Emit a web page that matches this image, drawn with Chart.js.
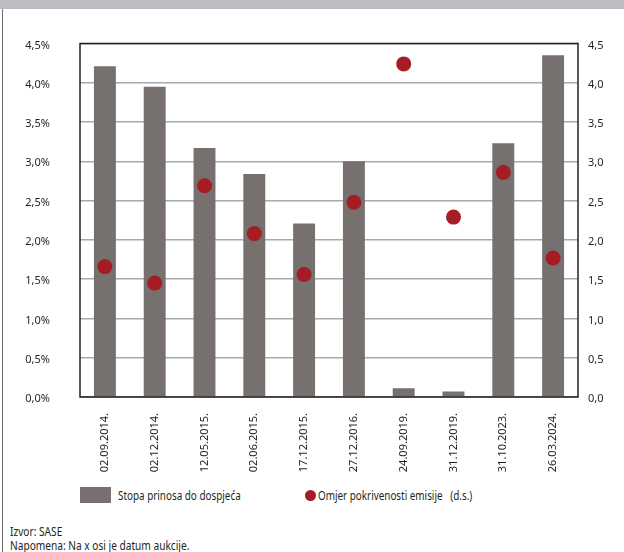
<!DOCTYPE html>
<html>
<head>
<meta charset="utf-8">
<script src="https://cdn.jsdelivr.net/npm/chart.js@4.4.1/dist/chart.umd.min.js"></script>
<style>
  body { margin: 0; width: 624px; height: 552px; background: #fff; position: relative; overflow: hidden;
         font-family: "Noto Sans", sans-serif; color: #231f20; }
  #traka { position: absolute; left: 0; top: 0; width: 624px; height: 9px; background: #bcbdc1; }
  #rub { position: absolute; left: 2px; top: 9px; width: 1px; height: 543px; background: #6d6e71; }
  #okvir { position: absolute; left: 0; top: 0; width: 624px; height: 480px; }
  .leg { position: absolute; font-size: 13px; line-height: 16px; white-space: nowrap;
         transform: scaleX(0.76); transform-origin: left center; }
  #legBar { left: 80px; top: 487px; width: 31px; height: 16px; background: #76706e; transform: none; }
  #legBarTxt { left: 118px; top: 487px; }
  #legDot { left: 305px; top: 490px; width: 11px; height: 11px; border-radius: 50%; background: #a51c24; transform: none; }
  #legDotTxt { left: 318px; top: 487px; }
  .nap { position: absolute; left: 10px; font-size: 13px; line-height: 14px; white-space: nowrap;
         transform: scaleX(0.78); transform-origin: left center; }
</style>
</head>
<body>
<div id="traka"></div>
<div id="rub"></div>
<div id="okvir"><canvas id="grafikon"></canvas></div>

<div class="leg" id="legBar"></div>
<div class="leg" id="legBarTxt">Stopa prinosa do dospjeća</div>
<div class="leg" id="legDot"></div>
<div class="leg" id="legDotTxt">Omjer pokrivenosti emisije&nbsp;&nbsp;&nbsp;(d.s.)</div>

<div class="nap" style="top:524px">Izvor: SASE</div>
<div class="nap" style="top:538px">Napomena: Na x osi je datum aukcije.</div>

<script>
// datumi aukcija
const datumi = ["02.09.2014.", "02.12.2014.", "12.05.2015.", "02.06.2015.", "17.12.2015.",
                "27.12.2016.", "24.09.2019.", "31.12.2019.", "31.10.2023.", "26.03.2024."];
// stopa prinosa do dospijeca (%)
const prinos = [4.21, 3.95, 3.17, 2.84, 2.21, 3.00, 0.11, 0.07, 3.23, 4.35];
// omjer pokrivenosti emisije (desna os)
const pokrivenost = [1.66, 1.45, 2.69, 2.08, 1.56, 2.48, 4.24, 2.29, 2.86, 1.77];

const oznakeLijevo = v => v.toFixed(1).replace(".", ",") + "%";
const oznakeDesno = v => v.toFixed(1).replace(".", ",");

// okvir oko podrucja grafa
const okvirPlugin = {
    id: "okvirPlugin",
    afterDatasetsDraw(chart) {
        const { ctx, chartArea: a } = chart;
        ctx.save();
        ctx.strokeStyle = "#231f20";
        ctx.lineWidth = 1.5;
        ctx.strokeRect(a.left, a.top, a.right - a.left, a.bottom - a.top);
        ctx.restore();
    }
};

const font = { family: '"Noto Sans", sans-serif', size: 11 };

new Chart(document.getElementById("grafikon").getContext("2d"), {
    type: "bar",
    data: {
        labels: datumi,
        datasets: [{
            type: "line",
            label: "Omjer pokrivenosti emisije (d.s.)",
            data: pokrivenost,
            yAxisID: "y2",
            showLine: false,
            pointRadius: 7.5,
            pointHoverRadius: 7.5,
            pointBackgroundColor: "#a51c24",
            pointBorderWidth: 0,
            order: 0
        }, {
            label: "Stopa prinosa do dospjeća",
            data: prinos,
            yAxisID: "y",
            backgroundColor: "#76706e",
            barPercentage: 0.5,
            categoryPercentage: 0.88,
            order: 1
        }]
    },
    options: {
        responsive: true,
        maintainAspectRatio: false,
        animation: false,
        layout: { padding: { top: 43.5, left: 0, right: 0, bottom: 0 } },
        plugins: { legend: { display: false }, tooltip: { enabled: false } },
        scales: {
            x: {
                grid: { display: false, drawTicks: false },
                border: { display: false },
                ticks: { font, color: "#231f20", minRotation: 90, maxRotation: 90, padding: 16 },
                afterFit(s) { s.height = 83; }
            },
            y: {
                position: "left",
                min: 0, max: 4.5,
                grid: { color: "#a7a9ac", lineWidth: 1.5, drawTicks: false },
                border: { display: false },
                ticks: { stepSize: 0.5, font, color: "#231f20", padding: 30, labelOffset: 2, callback: oznakeLijevo },
                afterFit(s) { s.width = 80; }
            },
            y2: {
                position: "right",
                min: 0, max: 4.5,
                grid: { display: false, drawTicks: false },
                border: { display: false },
                ticks: { stepSize: 0.5, font, color: "#231f20", padding: 10, labelOffset: 2, callback: oznakeDesno },
                afterFit(s) { s.width = 46; }
            }
        }
    },
    plugins: [okvirPlugin]
});
</script>
</body>
</html>
